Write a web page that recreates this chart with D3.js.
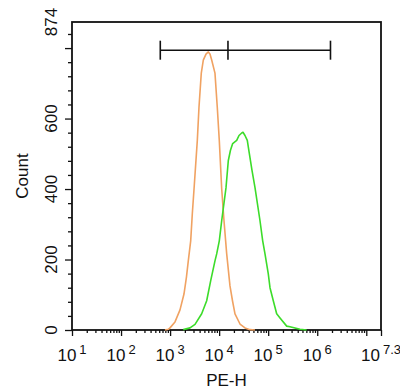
<!DOCTYPE html>
<html><head><meta charset="utf-8">
<script src="https://cdn.jsdelivr.net/npm/d3@7"></script>
<style>body{margin:0;background:#fff}svg text{font-family:"Liberation Sans",Arial,sans-serif;fill:#111}</style>
</head><body><svg id="c" width="400" height="391"></svg>
<script>
// ---- data ----
const xDomainExp = [1, 7.3];
const yMax = 874;
const xMajorExps = [1, 2, 3, 4, 5, 6, 7];
const xLabelExps = ["1", "2", "3", "4", "5", "6", "7.3"];
const yMajorTicks = [0, 200, 400, 600, 800];
const yLabels = [0, 200, 400, 600, 874];
const xTitle = "PE-H";
const yTitle = "Count";

// orange (control) histogram: log10(PE-H) and counts
const orangeExp = [2.896, 2.963, 2.998, 3.100, 3.202, 3.283, 3.334, 3.371, 3.420, 3.453, 3.493, 3.555, 3.589, 3.636, 3.677, 3.732, 3.779, 3.813, 3.848, 3.915, 3.962, 4.003, 4.052, 4.099, 4.154, 4.221, 4.272, 4.323, 4.425, 4.527, 4.629, 4.731];
const orangeCount = [0, 2, 6, 23, 57, 102, 151, 196, 253, 330, 410, 538, 632, 729, 766, 783, 789, 783, 766, 729, 632, 538, 401, 310, 216, 125, 83, 46, 17, 6, 1, 0];

// green (stained) histogram
const greenExp = [3.269, 3.406, 3.508, 3.644, 3.746, 3.828, 3.915, 3.950, 4.003, 4.052, 4.140, 4.187, 4.231, 4.276, 4.358, 4.405, 4.460, 4.486, 4.527, 4.574, 4.615, 4.670, 4.731, 4.833, 4.888, 4.935, 5.002, 5.037, 5.104, 5.173, 5.241, 5.377, 5.444, 5.648, 5.785];
const greenCount = [1, 6, 16, 46, 83, 140, 196, 216, 253, 310, 404, 481, 510, 529, 538, 552, 559, 561, 552, 538, 501, 453, 404, 310, 253, 216, 159, 120, 83, 46, 34, 11, 9, 2, 0];

// gate marker
const gateExp = [2.8, 4.18, 6.27];
const gateCount = 794;

// ---- chart ----
const svg = d3.select("#c");
const L = 72, R = 381, T = 22, B = 330;
const FS = 17;
const x = d3.scaleLog().domain([10 ** xDomainExp[0], 10 ** xDomainExp[1]]).range([L, R]);
const y = d3.scaleLinear().domain([0, yMax]).range([B, T]);

// minor ticks
const xMinor = [];
for (let e = xDomainExp[0]; e < 8; e++) for (let m = 2; m <= 9; m++) { const v = m * 10 ** e; if (v < 10 ** xDomainExp[1]) xMinor.push(v); }
const yMinor = d3.range(40, yMax, 40).filter(v => v % 200 !== 0);

const ax = svg.append("g");
ax.append("g").attr("transform", `translate(0,${B})`)
  .call(d3.axisBottom(x).tickValues(xMinor).tickSize(3).tickFormat("").tickSizeOuter(0));
ax.append("g").attr("transform", `translate(0,${B})`)
  .call(d3.axisBottom(x).tickValues(xMajorExps.map(e => 10 ** e).concat([10 ** xDomainExp[1]])).tickSize(6).tickFormat("").tickSizeOuter(0));
ax.append("g").attr("transform", `translate(${L},0)`)
  .call(d3.axisLeft(y).tickValues(yMinor).tickSize(4).tickFormat("").tickSizeOuter(0));
ax.append("g").attr("transform", `translate(${L},0)`)
  .call(d3.axisLeft(y).tickValues(yMajorTicks).tickSize(7).tickFormat("").tickSizeOuter(0));
ax.selectAll("path.domain").remove();
ax.selectAll("line").attr("stroke", "#111").attr("stroke-width", 1.3);

// frame
svg.append("rect").attr("x", L).attr("y", T).attr("width", R - L).attr("height", B - T)
  .attr("fill", "none").attr("stroke", "#111").attr("stroke-width", 1.8);

// x labels
const xl = svg.append("g");
xMajorExps.forEach((e, i) => {
  const val = i === xMajorExps.length - 1 ? 10 ** xDomainExp[1] : 10 ** e;
  const t = xl.append("text").attr("x", x(val)).attr("y", 361).attr("text-anchor", "middle").attr("font-size", FS);
  t.append("tspan").text("10");
  t.append("tspan").attr("dx", 3).attr("dy", -7).attr("font-size", 13).text(xLabelExps[i]);
});

// y labels
yLabels.forEach(v => {
  svg.append("text").attr("transform", `translate(57,${y(v)}) rotate(-90)`)
    .attr("text-anchor", "middle").attr("font-size", FS).text(v);
});

// titles
svg.append("text").attr("x", (L + R) / 2).attr("y", 386).attr("text-anchor", "middle").attr("font-size", FS).text(xTitle);
svg.append("text").attr("transform", `translate(28,${(T + B) / 2}) rotate(-90)`).attr("text-anchor", "middle").attr("font-size", FS).text(yTitle);

// curves
const line = d3.line().x(d => x(10 ** d[0])).y(d => y(d[1]));
svg.append("path").datum(d3.zip(orangeExp, orangeCount)).attr("d", line)
  .attr("fill", "none").attr("stroke", "#F0A262").attr("stroke-width", 1.6).attr("stroke-linejoin", "round");
svg.append("path").datum(d3.zip(greenExp, greenCount)).attr("d", line)
  .attr("fill", "none").attr("stroke", "#3CDC2A").attr("stroke-width", 1.6).attr("stroke-linejoin", "round");

// gate bracket
const g = svg.append("g").attr("stroke", "#111").attr("stroke-width", 1.6);
g.append("line").attr("x1", x(10 ** gateExp[0])).attr("x2", x(10 ** gateExp[2])).attr("y1", y(gateCount)).attr("y2", y(gateCount));
gateExp.forEach(e => g.append("line").attr("x1", x(10 ** e)).attr("x2", x(10 ** e)).attr("y1", y(gateCount) - 9.5).attr("y2", y(gateCount) + 9.5));
</script></body></html>
